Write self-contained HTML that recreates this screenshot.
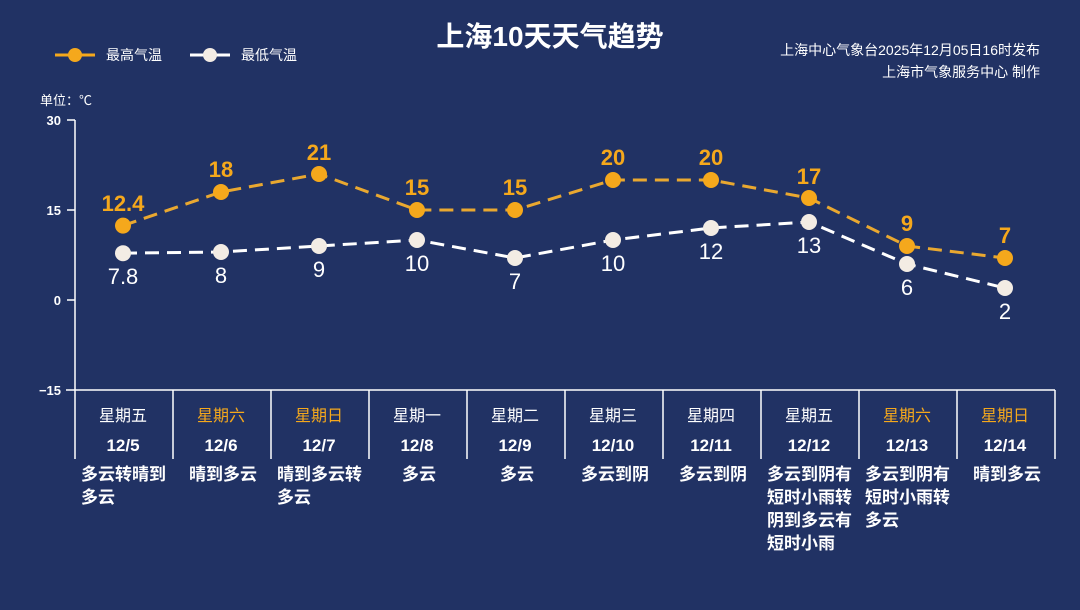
<!DOCTYPE html>
<html><head><meta charset="utf-8"><style>
html,body{margin:0;padding:0;background:#213264;}
svg{display:block;font-family:"Liberation Sans","Noto Sans CJK SC",sans-serif;}
</style></head><body>
<svg width="1080" height="610" viewBox="0 0 1080 610" xmlns="http://www.w3.org/2000/svg">
<rect width="1080" height="610" fill="#213264"/>
<text x="550" y="46" text-anchor="middle" font-size="28" font-weight="bold" fill="#fff">上海10天天气趋势</text>
<line x1="55" y1="55" x2="95" y2="55" stroke="#f5a81c" stroke-width="3"/><circle cx="75" cy="55" r="7" fill="#f5a81c"/>
<text x="106" y="60" font-size="14" fill="#fff">最高气温</text>
<line x1="190" y1="55" x2="230" y2="55" stroke="#fff" stroke-width="3"/><circle cx="210" cy="55" r="7" fill="#f3ece4"/>
<text x="241" y="60" font-size="14" fill="#fff">最低气温</text>
<text x="1040" y="55" text-anchor="end" font-size="14" fill="#fff">上海中心气象台2025年12月05日16时发布</text>
<text x="1040" y="77" text-anchor="end" font-size="14" fill="#fff">上海市气象服务中心 制作</text>
<text x="40" y="105" font-size="13" fill="#fff">单位：℃</text>
<g font-size="13" font-weight="bold" fill="#fff" text-anchor="end">
<text x="61" y="125">30</text><text x="61" y="215">15</text><text x="61" y="305">0</text><text x="61" y="395">−15</text></g>
<g stroke="#fff" stroke-width="1.5">
<line x1="75" y1="120" x2="75" y2="459"/><line x1="67" y1="120" x2="75" y2="120"/><line x1="67" y1="210" x2="75" y2="210"/><line x1="67" y1="300" x2="75" y2="300"/>
<line x1="66" y1="390" x2="1055" y2="390"/>
<line x1="173" y1="390" x2="173" y2="459"/><line x1="271" y1="390" x2="271" y2="459"/><line x1="369" y1="390" x2="369" y2="459"/><line x1="467" y1="390" x2="467" y2="459"/><line x1="565" y1="390" x2="565" y2="459"/><line x1="663" y1="390" x2="663" y2="459"/><line x1="761" y1="390" x2="761" y2="459"/><line x1="859" y1="390" x2="859" y2="459"/><line x1="957" y1="390" x2="957" y2="459"/><line x1="1055" y1="390" x2="1055" y2="459"/>
</g>
<polyline fill="none" stroke="#e9a830" stroke-width="3" stroke-dasharray="14,8" points="123,225.6 221,192 319,174 417,210 515,210 613,180 711,180 809,198 907,246 1005,258"/>
<polyline fill="none" stroke="#fff" stroke-width="3" stroke-dasharray="14,8" points="123,253.2 221,252 319,246 417,240 515,258 613,240 711,228 809,222 907,264 1005,288"/>
<g fill="#f5a81c">
<circle cx="123" cy="225.6" r="8"/><circle cx="221" cy="192" r="8"/><circle cx="319" cy="174" r="8"/><circle cx="417" cy="210" r="8"/><circle cx="515" cy="210" r="8"/><circle cx="613" cy="180" r="8"/><circle cx="711" cy="180" r="8"/><circle cx="809" cy="198" r="8"/><circle cx="907" cy="246" r="8"/><circle cx="1005" cy="258" r="8"/></g>
<g fill="#f3ece4">
<circle cx="123" cy="253.2" r="8"/><circle cx="221" cy="252" r="8"/><circle cx="319" cy="246" r="8"/><circle cx="417" cy="240" r="8"/><circle cx="515" cy="258" r="8"/><circle cx="613" cy="240" r="8"/><circle cx="711" cy="228" r="8"/><circle cx="809" cy="222" r="8"/><circle cx="907" cy="264" r="8"/><circle cx="1005" cy="288" r="8"/></g>
<g fill="#f5a81c" font-size="22" font-weight="bold" text-anchor="middle">
<text x="123" y="211">12.4</text><text x="221" y="177">18</text><text x="319" y="160">21</text><text x="417" y="195">15</text><text x="515" y="195">15</text><text x="613" y="165">20</text><text x="711" y="165">20</text><text x="809" y="184">17</text><text x="907" y="231">9</text><text x="1005" y="243">7</text></g>
<g fill="#fff" font-size="22" text-anchor="middle">
<text x="123" y="284">7.8</text><text x="221" y="283">8</text><text x="319" y="277">9</text><text x="417" y="271">10</text><text x="515" y="289">7</text><text x="613" y="271">10</text><text x="711" y="259">12</text><text x="809" y="253">13</text><text x="907" y="295">6</text><text x="1005" y="319">2</text></g>
<g font-size="16" text-anchor="middle" fill="#fff">
<text x="123" y="421">星期五</text><text x="221" y="421" fill="#f5a81c">星期六</text><text x="319" y="421" fill="#f5a81c">星期日</text><text x="417" y="421">星期一</text><text x="515" y="421">星期二</text><text x="613" y="421">星期三</text><text x="711" y="421">星期四</text><text x="809" y="421">星期五</text><text x="907" y="421" fill="#f5a81c">星期六</text><text x="1005" y="421" fill="#f5a81c">星期日</text>
</g>
<g font-size="17" font-weight="bold" text-anchor="middle" fill="#fff">
<text x="123" y="451">12/5</text><text x="221" y="451">12/6</text><text x="319" y="451">12/7</text><text x="417" y="451">12/8</text><text x="515" y="451">12/9</text><text x="613" y="451">12/10</text><text x="711" y="451">12/11</text><text x="809" y="451">12/12</text><text x="907" y="451">12/13</text><text x="1005" y="451">12/14</text>
</g>
<g font-size="17" font-weight="bold" fill="#fff">
<text x="81" y="480">多云转晴到</text><text x="81" y="503">多云</text>
<text x="223" y="480" text-anchor="middle">晴到多云</text>
<text x="277" y="480">晴到多云转</text><text x="277" y="503">多云</text>
<text x="419" y="480" text-anchor="middle">多云</text>
<text x="517" y="480" text-anchor="middle">多云</text>
<text x="615" y="480" text-anchor="middle">多云到阴</text>
<text x="713" y="480" text-anchor="middle">多云到阴</text>
<text x="767" y="480">多云到阴有</text><text x="767" y="503">短时小雨转</text><text x="767" y="526">阴到多云有</text><text x="767" y="549">短时小雨</text>
<text x="865" y="480">多云到阴有</text><text x="865" y="503">短时小雨转</text><text x="865" y="526">多云</text>
<text x="1007" y="480" text-anchor="middle">晴到多云</text>
</g>
</svg>
</body></html>
